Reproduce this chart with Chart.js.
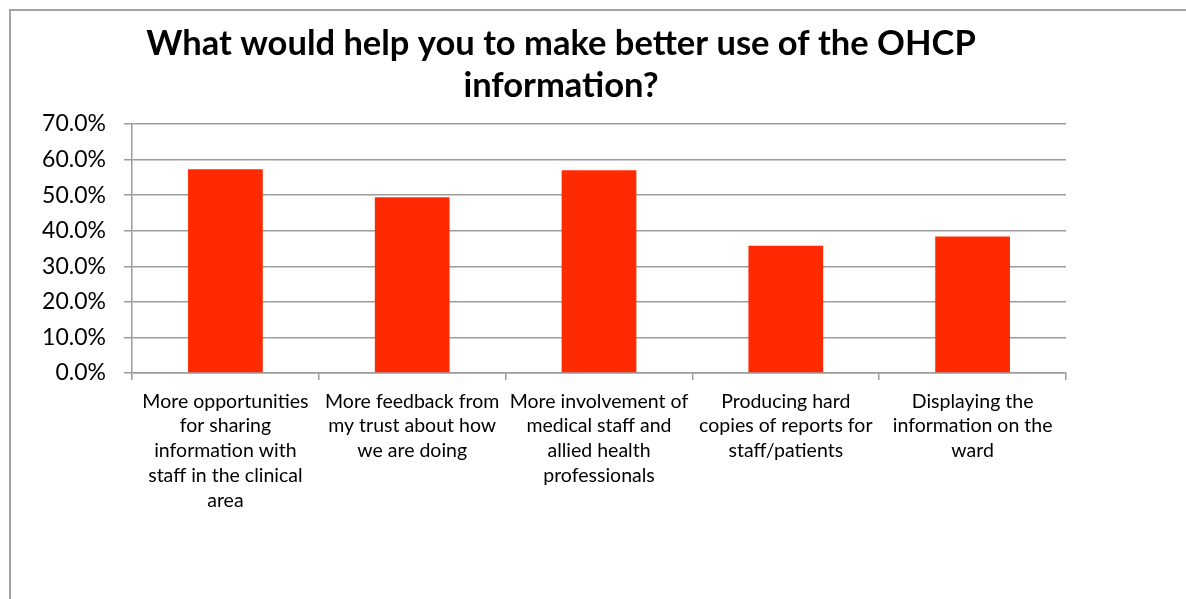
<!DOCTYPE html>
<html>
<head>
<meta charset="utf-8">
<script src="https://cdn.jsdelivr.net/npm/chart.js@4"></script>
<style>
    body { margin: 0; background: #fff; overflow: hidden; }
    #frame {
        position: absolute; left: 9px; top: 9px; width: 1300px; height: 700px;
        border-top: 2px solid #a3a3a3; border-left: 2px solid #a3a3a3;
    }
    #chart { position: absolute; left: 0; top: 0; }
</style>
</head>
<body>
<div id="frame"></div>
<canvas id="chart" width="1186" height="599"></canvas>
<script>
const categories = [
    ["More opportunities", "for sharing", "information with", "staff in the clinical", "area"],
    ["More feedback from", "my trust about how", "we are doing"],
    ["More involvement of", "medical staff and", "allied health", "professionals"],
    ["Producing hard", "copies of reports for", "staff/patients"],
    ["Displaying the", "information on the", "ward"]
];
const percentages = [57.3, 49.4, 57.0, 35.8, 38.4];
const yTicks = [0, 10, 20, 30, 40, 50, 60, 70];
const titleLines = ["What would help you to make better use of the OHCP", "information?"];

const gridGrey = "#9c9c9c";

// title sits left of the plot centre, so it is drawn here rather than by the title plugin
const offsetTitle = {
    id: "offsetTitle",
    afterDraw(chart) {
        const c = chart.ctx;
        c.save();
        c.font = "bold 34.5px Lato";
        c.fillStyle = "#000";
        c.textAlign = "center";
        c.textBaseline = "middle";
        titleLines.forEach((line, i) => c.fillText(line, 561, 44 + i * 42));
        c.restore();
    },
};

const ctx = document.getElementById("chart").getContext("2d");
new Chart(ctx, {
    type: "bar",
    data: {
        labels: categories,
        datasets: [
            {
                data: percentages,
                backgroundColor: "#ff2a00",
                borderWidth: 0,
                barPercentage: 0.4,
                categoryPercentage: 1.0,
            },
        ],
    },
    plugins: [offsetTitle],
    options: {
        responsive: false,
        animation: false,
        layout: {
            padding: { left: 12, right: 120, top: 124, bottom: 0 },
        },
        plugins: {
            legend: { display: false },
            tooltip: { enabled: false },
            title: { display: false },
        },
        scales: {
            x: {
                afterFit: (scale) => { scale.height = 226; },
                grid: {
                    drawOnChartArea: false,
                    tickLength: 7,
                    color: gridGrey,
                    lineWidth: 1.5,
                },
                border: { color: gridGrey, width: 1.5 },
                ticks: {
                    color: "#000",
                    padding: 9,
                    maxRotation: 0,
                    autoSkip: false,
                    font: { family: "Lato", size: 19.5, lineHeight: 1.27 },
                },
            },
            y: {
                min: yTicks[0],
                max: yTicks[yTicks.length - 1],
                afterFit: (scale) => { scale.width = 120; },
                grid: {
                    color: gridGrey,
                    lineWidth: 1.5,
                    tickLength: 8,
                },
                border: { color: gridGrey, width: 1.5 },
                ticks: {
                    stepSize: yTicks[1] - yTicks[0],
                    color: "#000",
                    padding: 18,
                    font: { family: "Lato", size: 23 },
                    callback: (value) => Number(value).toFixed(1) + "%",
                },
            },
        },
    },
});
</script>
</body>
</html>
